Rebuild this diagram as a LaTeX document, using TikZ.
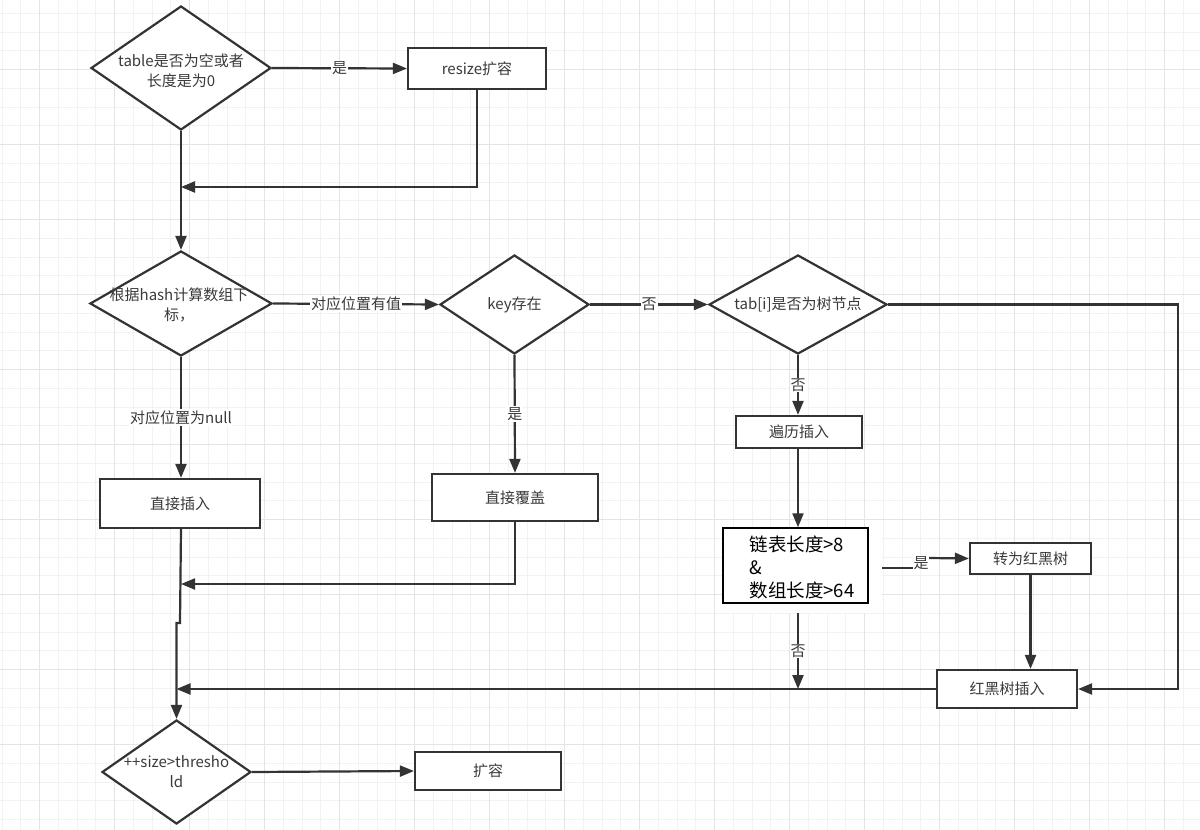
\documentclass[tikz,border=0pt]{standalone}
\usepackage{fontspec}
\setmainfont{Noto Sans CJK SC}
\usetikzlibrary{shapes.geometric,arrows.meta}
\definecolor{lnc}{HTML}{333333}
\definecolor{txc}{HTML}{3A3A3A}
\definecolor{gmn}{HTML}{F2F2F2}
\definecolor{gmj}{HTML}{E4E4E4}
\begin{document}
\begin{tikzpicture}[x=1pt,y=-1pt,
  every node/.style={text=txc, font=\fontsize{15}{20}\selectfont},
  dia/.style={draw=lnc, line width=2.2pt, diamond, fill=white, inner sep=0pt},
  box/.style={draw=lnc, line width=2.2pt, rectangle, fill=white, inner sep=0pt},
  arr/.style={draw=lnc, line width=2.2pt, -{Triangle[length=14pt,width=11pt]}},
  wire/.style={draw=lnc, line width=2.2pt},
  lbl/.style={fill=white, inner sep=1pt},
  gridmin/.style={draw=gmn, line width=1pt},
  gridmaj/.style={draw=gmj, line width=1pt},
]
\useasboundingbox (0,0) rectangle (1200,830);
\fill[white] (0,0) rectangle (1200,830);
% grid
\foreach \i in {0,...,63} { \draw[gridmin] ({2.2+18.75*\i},0) -- ({2.2+18.75*\i},830); }
\foreach \i in {0,...,43} { \draw[gridmin] (0,{13.45+18.75*\i}) -- (1200,{13.45+18.75*\i}); }
\foreach \i in {0,...,15} { \draw[gridmaj] ({39.7+75*\i},0) -- ({39.7+75*\i},830); }
\foreach \i in {0,...,10} { \draw[gridmaj] (0,{-5.3+75*\i}) -- (1200,{-5.3+75*\i}); }

% nodes
\node[dia, minimum width=180pt, minimum height=124pt] (d1) at (181,68) {};
\node[align=center] (d1t) at (181,71) {table是否为空或者\\长度是为0};
\node[box, minimum width=138pt, minimum height=41pt] (b1) at (477,68.5) {resize扩容};

\node[dia, minimum width=182pt, minimum height=105pt] (d2) at (181,303.5) {};
\node[align=center] (d2t) at (179,305) {根据hash计算数组下\\标，};
\node[dia, minimum width=149pt, minimum height=99pt] (d3) at (514.5,304.5) {key存在};
\node[dia, minimum width=178pt, minimum height=99pt] (d4) at (798,304.5) {};
\node (d4t) at (798,304) {tab[i]是否为树节点};

\node[box, minimum width=160pt, minimum height=49pt] (zj) at (180,503.5) {直接插入};
\node[box, minimum width=166pt, minimum height=47pt] (zf) at (515,497.5) {直接覆盖};
\node[box, minimum width=126pt, minimum height=32pt] (bl) at (799,432) {遍历插入};

\fill[white] (723,528) rectangle (882,613);
\node[draw=black, line width=1.5pt, fill=white, minimum width=145pt, minimum height=75pt, inner sep=0pt] (lb) at (795.5,565.5) {};
\node[anchor=west, align=left, text=black, font=\fontsize{18.5}{23}\selectfont] (lbt) at (746,567) {链表长度>8\\\&\\数组长度>64};

\node[box, minimum width=121pt, minimum height=31pt] (zh) at (1030.5,558.5) {转为红黑树};
\node[box, minimum width=140pt, minimum height=38pt] (rbi) at (1007,689) {红黑树插入};

\node[dia, minimum width=149pt, minimum height=104pt] (d5) at (176.5,772) {};
\node[align=center] (d5t) at (176.5,772) {++size>thresho\\ld};
\node[box, minimum width=146pt, minimum height=38pt] (kr) at (488,771) {扩容};

% coordinates
\coordinate (j1) at (181,187);
\coordinate (j2) at (181,584);
\coordinate (k1) at (180,623);
\coordinate (k2) at (176.5,623);
\coordinate (j5) at (176.5,689);
\coordinate (c1) at (1178,304.5);
\coordinate (lb2) at (798,613);
\coordinate (j4) at (798,689);
\coordinate (m1) at (882,568);
\coordinate (m2) at (913,568);
\coordinate (m3) at (929,558);

% connectors
\draw[arr] (d1.east) -- node[lbl]{是} (b1.west);
\draw[arr] (b1.south) |- (j1);
\draw[arr] (d1.south) -- (d2.north);
\draw[arr] (d2.east) -- node[lbl]{对应位置有值} (d3.west);
\draw[arr] (d3.east) -- node[lbl]{否} (d4.west);
\draw[arr] (d4.east) -- (c1) |- (rbi.east);
\draw[arr] (d4.south) -- node[lbl]{否} (d4.south |- bl.north);
\draw[arr] (d4.south |- bl.south) -- (d4.south |- lb.north);
\draw[wire] (m1) -- (m2);
\node[lbl] (yes) at (921,563) {是};
\draw[arr] (m3) -- (zh.west);
\draw[arr] (zh.south) -- (zh.south |- rbi.north);
\draw[arr] (lb2) -- node[lbl]{否} (j4);
\draw[arr] (rbi.west) -- (j5);
\draw[arr] (d3.south) -- node[lbl]{是} (zf.north);
\draw[arr] (zf.south) |- (j2);
\draw[arr] (d2.south) -- node[lbl]{对应位置为null} (d2.south |- zj.north);
\draw[arr] (d2.south |- zj.south) -- (k1) -- (k2) -- (d5.north);
\draw[arr] (d5.east) -- (kr.west);
\end{tikzpicture}
\end{document}
